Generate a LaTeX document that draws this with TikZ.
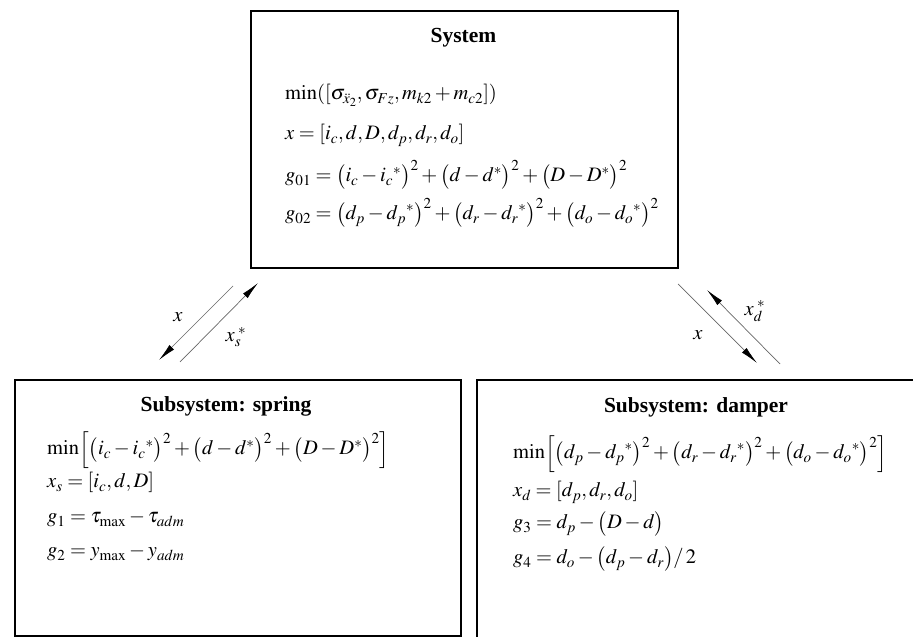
\documentclass[tikz,border=0pt]{standalone}
\usepackage{mathptmx}
\usepackage[no-math]{fontspec}
\setmainfont{Liberation Serif}
\usetikzlibrary{arrows.meta}
\newcommand{\fs}{\fontsize{20.5}{24}\selectfont}
\begin{document}
\begin{tikzpicture}[x=1pt,y=1pt,
  box/.style={draw=black, line width=1.6pt, inner sep=0pt, anchor=north west},
  ttl/.style={font=\fontsize{21.5}{25}\selectfont\bfseries, anchor=base, inner sep=0pt},
  eq/.style={font=\fs, anchor=base west, inner sep=0pt},
  lbl/.style={font=\fs, inner sep=0pt},
  flow/.style={draw=black!60, line width=0.7pt, -{Latex[length=18pt,width=6.5pt,color=black]}}]
\useasboundingbox (0,0) rectangle (913,637);
\clip (0,0) rectangle (913,637);
% boxes
\node[box, minimum width=427pt, minimum height=257pt] (sys) at (250,627) {};
\node[box, minimum width=446pt, minimum height=256pt] (spr) at (14,258) {};
\node[box, minimum width=470pt, minimum height=280pt] (dmp) at (476,258) {};
% titles
\node[ttl] (systtl) at (463.5,594) {System};
\node[ttl] (sprtl) at (226,225) {Subsystem: spring};
\node[ttl] (dmptl) at (696,224) {Subsystem: damper};
% system equations
\node[eq] (s1) at (285,537) {$\min([\sigma_{\ddot{x}_2},\sigma_{Fz},m_{k2}+m_{c2}])$};
\node[eq] (s2) at (285,497) {$x=[i_c,d,D,d_p,d_r,d_o]$};
\node[eq] (s3) at (285,455) {$g_{01}=\bigl(i_c-{i_c}^{*}\bigr)^2+\bigl(d-d^{*}\bigr)^2+\bigl(D-D^{*}\bigr)^2$};
\node[eq] (s4) at (285,417) {$g_{02}=\bigl(d_p-{d_p}^{*}\bigr)^2+\bigl(d_r-{d_r}^{*}\bigr)^2+\bigl(d_o-{d_o}^{*}\bigr)^2$};
% spring equations
\node[eq] (p1) at (47,182) {$\min\Bigl[\bigl(i_c-{i_c}^{*}\bigr)^2+\bigl(d-d^{*}\bigr)^2+\bigl(D-D^{*}\bigr)^2\Bigr]$};
\node[eq] (p2) at (47,149) {$x_s=[i_c,d,D]$};
\node[eq] (p3) at (47,114) {$g_1=\tau_{\max}-\tau_{adm}$};
\node[eq] (p4) at (47,80) {$g_2=y_{\max}-y_{adm}$};
% damper equations
\node[eq] (d1) at (513,178) {$\min\Bigl[\bigl(d_p-{d_p}^{*}\bigr)^2+\bigl(d_r-{d_r}^{*}\bigr)^2+\bigl(d_o-{d_o}^{*}\bigr)^2\Bigr]$};
\node[eq] (d2) at (513,140) {$x_d=[d_p,d_r,d_o]$};
\node[eq] (d3) at (513,108) {$g_3=d_p-\bigl(D-d\bigr)$};
\node[eq] (d4) at (513,73) {$g_4=d_o-\bigl(d_p-d_r\bigr)/\,2$};
% flow arrows
\coordinate (la1) at (233,351); \coordinate (lb1) at (159,277);
\coordinate (la2) at (180,275); \coordinate (lb2) at (258,354);
\coordinate (ra1) at (678,353); \coordinate (rb1) at (757,274);
\coordinate (ra2) at (780,273); \coordinate (rb2) at (707,347);
\draw[flow] (la1) -- (lb1);
\draw[flow] (la2) -- (lb2);
\draw[flow] (ra1) -- (rb1);
\draw[flow] (ra2) -- (rb2);
\node[lbl] (lx) at (178,320) {$x$};
\node[lbl] (lxs) at (236,300) {$x_s^{\;*}$};
\node[lbl] (rx) at (698,302) {$x$};
\node[lbl] (rxd) at (755,326) {$x_d^{\;*}$};
\end{tikzpicture}
\end{document}
